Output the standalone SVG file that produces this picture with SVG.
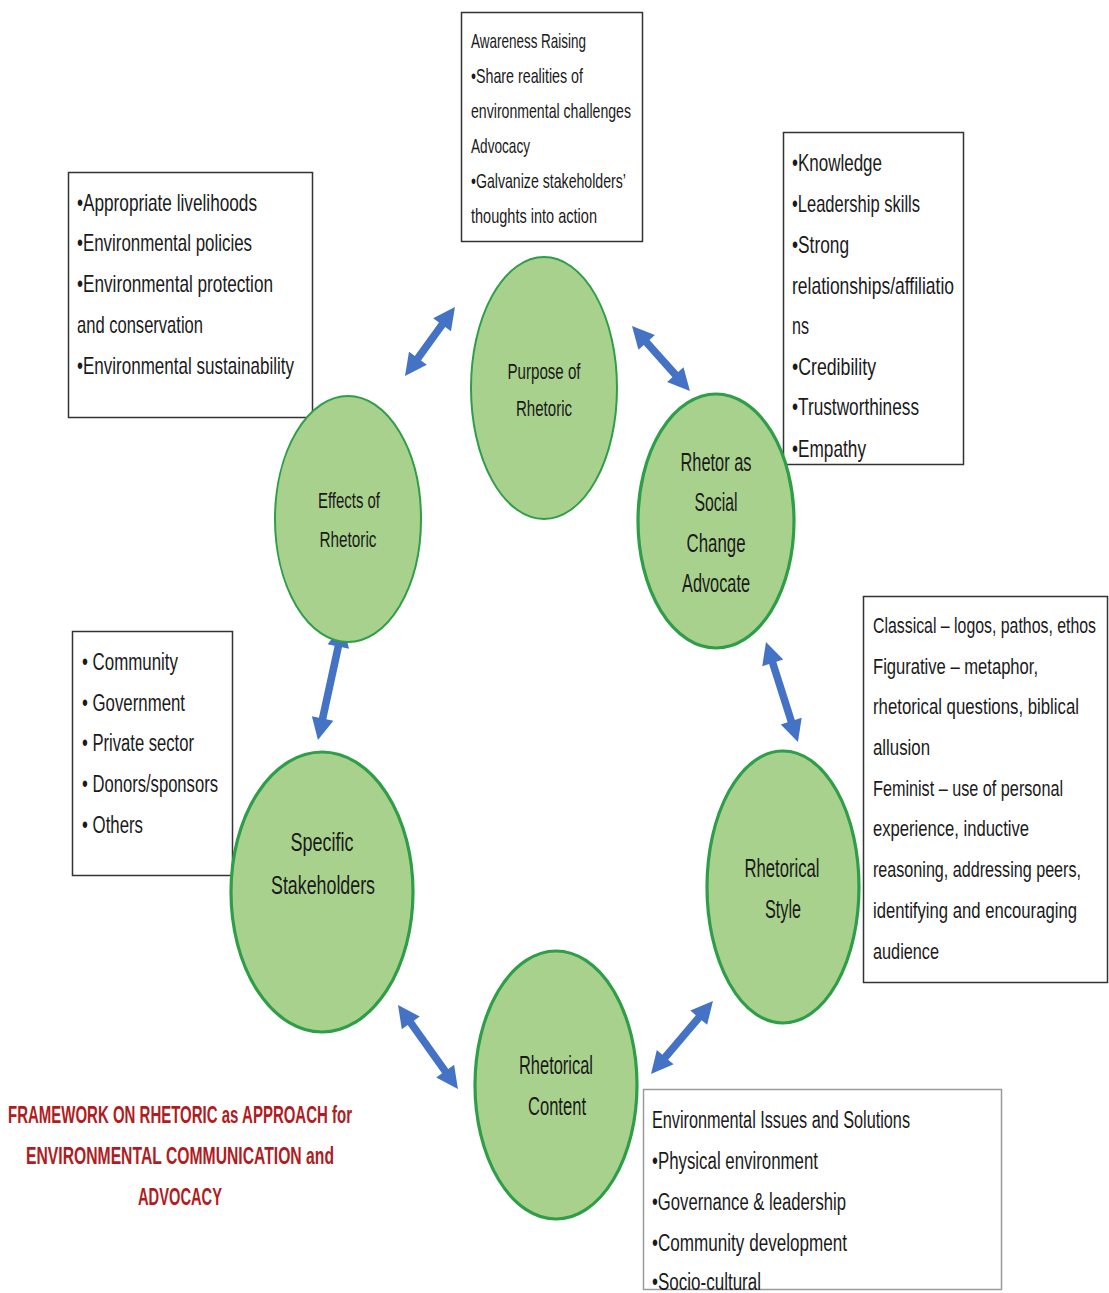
<svg xmlns="http://www.w3.org/2000/svg" width="1109" height="1293" viewBox="0 0 1109 1293">
<style>
.bg{fill:#ffffff}
.box{fill:#ffffff;stroke:#333333;stroke-width:1.5}
.boxl{fill:#ffffff;stroke:#9a9a9a;stroke-width:1.5}
.node{fill:#a9d18e;stroke:#2e9e48}
.thin{stroke-width:2}
.thick{stroke-width:3.2}
.t{font-family:"Liberation Sans",Arial,sans-serif;fill:#1a1a1a}
.s20{font-size:21px}
.s22{font-size:22px}
.s23{font-size:23px}
.s24{font-size:24px}
.c22{font-size:22px}
.c26{font-size:26px}
.title{font-family:"Liberation Sans",Arial,sans-serif;font-weight:bold;font-size:23px;fill:#b01c22}
.arr{fill:#4472c4}
</style>
<rect class="bg" x="0" y="0" width="1109" height="1293"/>

<g id="connectors">
<path class="arr" transform="translate(405,376) rotate(-54.1)" d="M0,0 L22,-11 L22,-3.8 L63.2,-3.8 L63.2,-11 L85.2,0 L63.2,11 L63.2,3.8 L22,3.8 L22,11 Z"/>
<path class="arr" transform="translate(632,326) rotate(48.3)" d="M0,0 L22,-11 L22,-3.8 L65.1,-3.8 L65.1,-11 L87.1,0 L65.1,11 L65.1,3.8 L22,3.8 L22,11 Z"/>
<path class="arr" transform="translate(766,642) rotate(72.3)" d="M0,0 L22,-11 L22,-3.8 L83,-3.8 L83,-11 L105,0 L83,11 L83,3.8 L22,3.8 L22,11 Z"/>
<path class="arr" transform="translate(343,625) rotate(102.3)" d="M0,0 L22,-11 L22,-3.8 L95.7,-3.8 L95.7,-11 L117.7,0 L95.7,11 L95.7,3.8 L22,3.8 L22,11 Z"/>
<path class="arr" transform="translate(398,1005) rotate(54.5)" d="M0,0 L22,-11 L22,-3.8 L81.2,-3.8 L81.2,-11 L103.2,0 L81.2,11 L81.2,3.8 L22,3.8 L22,11 Z"/>
<path class="arr" transform="translate(651,1074) rotate(-49.7)" d="M0,0 L22,-11 L22,-3.8 L73.8,-3.8 L73.8,-11 L95.8,0 L73.8,11 L73.8,3.8 L22,3.8 L22,11 Z"/>
</g>

<g id="box-purpose">
<rect class="box" x="461.5" y="12.5" width="181" height="229"/>
<text class="t s20" x="471" y="48" textLength="115" lengthAdjust="spacingAndGlyphs">Awareness Raising</text>
<text class="t s20" x="471" y="83" textLength="112" lengthAdjust="spacingAndGlyphs">•Share realities of</text>
<text class="t s20" x="471" y="118" textLength="160" lengthAdjust="spacingAndGlyphs">environmental challenges</text>
<text class="t s20" x="471" y="153" textLength="59" lengthAdjust="spacingAndGlyphs">Advocacy</text>
<text class="t s20" x="471" y="188" textLength="155" lengthAdjust="spacingAndGlyphs">•Galvanize stakeholders’</text>
<text class="t s20" x="471" y="223" textLength="126" lengthAdjust="spacingAndGlyphs">thoughts into action</text>
</g>

<g id="box-rhetor">
<rect class="box" x="783.5" y="132.5" width="180" height="332"/>
<text class="t s24" x="792" y="171" textLength="90" lengthAdjust="spacingAndGlyphs">•Knowledge</text>
<text class="t s24" x="792" y="212" textLength="128" lengthAdjust="spacingAndGlyphs">•Leadership skills</text>
<text class="t s24" x="792" y="253" textLength="57" lengthAdjust="spacingAndGlyphs">•Strong</text>
<text class="t s24" x="792" y="294" textLength="162" lengthAdjust="spacingAndGlyphs">relationships/affiliatio</text>
<text class="t s24" x="792" y="334" textLength="17" lengthAdjust="spacingAndGlyphs">ns</text>
<text class="t s24" x="792" y="375" textLength="84" lengthAdjust="spacingAndGlyphs">•Credibility</text>
<text class="t s24" x="792" y="415" textLength="127" lengthAdjust="spacingAndGlyphs">•Trustworthiness</text>
<text class="t s24" x="792" y="457" textLength="74" lengthAdjust="spacingAndGlyphs">•Empathy</text>
</g>

<g id="box-effects">
<rect class="box" x="68.5" y="172.5" width="244" height="245"/>
<text class="t s24" x="77" y="211" textLength="180" lengthAdjust="spacingAndGlyphs">•Appropriate livelihoods</text>
<text class="t s24" x="77" y="251" textLength="175" lengthAdjust="spacingAndGlyphs">•Environmental policies</text>
<text class="t s24" x="77" y="292" textLength="196" lengthAdjust="spacingAndGlyphs">•Environmental protection</text>
<text class="t s24" x="77" y="333" textLength="126" lengthAdjust="spacingAndGlyphs">and conservation</text>
<text class="t s24" x="77" y="374" textLength="217" lengthAdjust="spacingAndGlyphs">•Environmental sustainability</text>
</g>

<g id="box-stakeholders">
<rect class="box" x="72.5" y="631.5" width="160" height="244"/>
<text class="t s23" x="82" y="670" textLength="96" lengthAdjust="spacingAndGlyphs">• Community</text>
<text class="t s23" x="82" y="711" textLength="103" lengthAdjust="spacingAndGlyphs">• Government</text>
<text class="t s23" x="82" y="751" textLength="112" lengthAdjust="spacingAndGlyphs">• Private sector</text>
<text class="t s23" x="82" y="792" textLength="136" lengthAdjust="spacingAndGlyphs">• Donors/sponsors</text>
<text class="t s23" x="82" y="833" textLength="61" lengthAdjust="spacingAndGlyphs">• Others</text>
</g>

<g id="box-style">
<rect class="box" x="863.5" y="596.5" width="244" height="386"/>
<g transform="translate(873,0) scale(0.72,1)">
<text class="t s22" x="0" y="633" textLength="309.7" lengthAdjust="spacingAndGlyphs">Classical – logos, pathos, ethos</text>
<text class="t s22" x="0" y="674" textLength="229.2" lengthAdjust="spacingAndGlyphs">Figurative – metaphor,</text>
<text class="t s22" x="0" y="714" textLength="286.1" lengthAdjust="spacingAndGlyphs">rhetorical questions, biblical</text>
<text class="t s22" x="0" y="755" textLength="79.2" lengthAdjust="spacingAndGlyphs">allusion</text>
<text class="t s22" x="0" y="796" textLength="263.9" lengthAdjust="spacingAndGlyphs">Feminist – use of personal</text>
<text class="t s22" x="0" y="836" textLength="216.7" lengthAdjust="spacingAndGlyphs">experience, inductive</text>
<text class="t s22" x="0" y="877" textLength="288.9" lengthAdjust="spacingAndGlyphs">reasoning, addressing peers,</text>
<text class="t s22" x="0" y="918" textLength="283.3" lengthAdjust="spacingAndGlyphs">identifying and encouraging</text>
<text class="t s22" x="0" y="959" textLength="91.7" lengthAdjust="spacingAndGlyphs">audience</text>
</g>
</g>

<g id="box-content">
<rect class="boxl" x="643.5" y="1089.5" width="358" height="200"/>
<text class="t s23" x="652" y="1128" textLength="258" lengthAdjust="spacingAndGlyphs">Environmental Issues and Solutions</text>
<text class="t s23" x="652" y="1169" textLength="166" lengthAdjust="spacingAndGlyphs">•Physical environment</text>
<text class="t s23" x="652" y="1210" textLength="194" lengthAdjust="spacingAndGlyphs">•Governance &amp; leadership</text>
<text class="t s23" x="652" y="1251" textLength="195" lengthAdjust="spacingAndGlyphs">•Community development</text>
<text class="t s23" x="652" y="1290" textLength="109" lengthAdjust="spacingAndGlyphs">•Socio-cultural</text>
</g>

<g id="node-purpose">
<ellipse class="node thin" cx="544" cy="388" rx="73" ry="131"/>
<text class="t c22" x="544" y="379" text-anchor="middle" textLength="73" lengthAdjust="spacingAndGlyphs">Purpose of</text>
<text class="t c22" x="544" y="416" text-anchor="middle" textLength="56" lengthAdjust="spacingAndGlyphs">Rhetoric</text>
</g>

<g id="node-rhetor">
<ellipse class="node thick" cx="716" cy="521" rx="78" ry="127"/>
<text class="t c26" x="716" y="471" text-anchor="middle" textLength="71" lengthAdjust="spacingAndGlyphs">Rhetor as</text>
<text class="t c26" x="716" y="511" text-anchor="middle" textLength="43" lengthAdjust="spacingAndGlyphs">Social</text>
<text class="t c26" x="716" y="552" text-anchor="middle" textLength="59" lengthAdjust="spacingAndGlyphs">Change</text>
<text class="t c26" x="716" y="592" text-anchor="middle" textLength="68" lengthAdjust="spacingAndGlyphs">Advocate</text>
</g>

<g id="node-effects">
<ellipse class="node thin" cx="348" cy="519" rx="73" ry="123"/>
<text class="t c22" x="349" y="508" text-anchor="middle" textLength="62" lengthAdjust="spacingAndGlyphs">Effects of</text>
<text class="t c22" x="348" y="547" text-anchor="middle" textLength="57" lengthAdjust="spacingAndGlyphs">Rhetoric</text>
</g>

<g id="node-stakeholders">
<ellipse class="node thick" cx="322" cy="892" rx="91" ry="140"/>
<text class="t c26" x="322" y="851" text-anchor="middle" textLength="63" lengthAdjust="spacingAndGlyphs">Specific</text>
<text class="t c26" x="323" y="894" text-anchor="middle" textLength="104" lengthAdjust="spacingAndGlyphs">Stakeholders</text>
</g>

<g id="node-style">
<ellipse class="node thick" cx="783" cy="887" rx="76" ry="136"/>
<text class="t c26" x="782" y="877" text-anchor="middle" textLength="75" lengthAdjust="spacingAndGlyphs">Rhetorical</text>
<text class="t c26" x="783" y="918" text-anchor="middle" textLength="36" lengthAdjust="spacingAndGlyphs">Style</text>
</g>

<g id="node-content">
<ellipse class="node thick" cx="556" cy="1085" rx="81" ry="134"/>
<text class="t c26" x="556" y="1074" text-anchor="middle" textLength="74" lengthAdjust="spacingAndGlyphs">Rhetorical</text>
<text class="t c26" x="557" y="1115" text-anchor="middle" textLength="58" lengthAdjust="spacingAndGlyphs">Content</text>
</g>

<g id="title">
<text class="title" x="180" y="1123" text-anchor="middle" textLength="344" lengthAdjust="spacingAndGlyphs">FRAMEWORK ON RHETORIC as APPROACH for</text>
<text class="title" x="180" y="1164" text-anchor="middle" textLength="308" lengthAdjust="spacingAndGlyphs">ENVIRONMENTAL COMMUNICATION and</text>
<text class="title" x="180" y="1205" text-anchor="middle" textLength="84" lengthAdjust="spacingAndGlyphs">ADVOCACY</text>
</g>
</svg>
